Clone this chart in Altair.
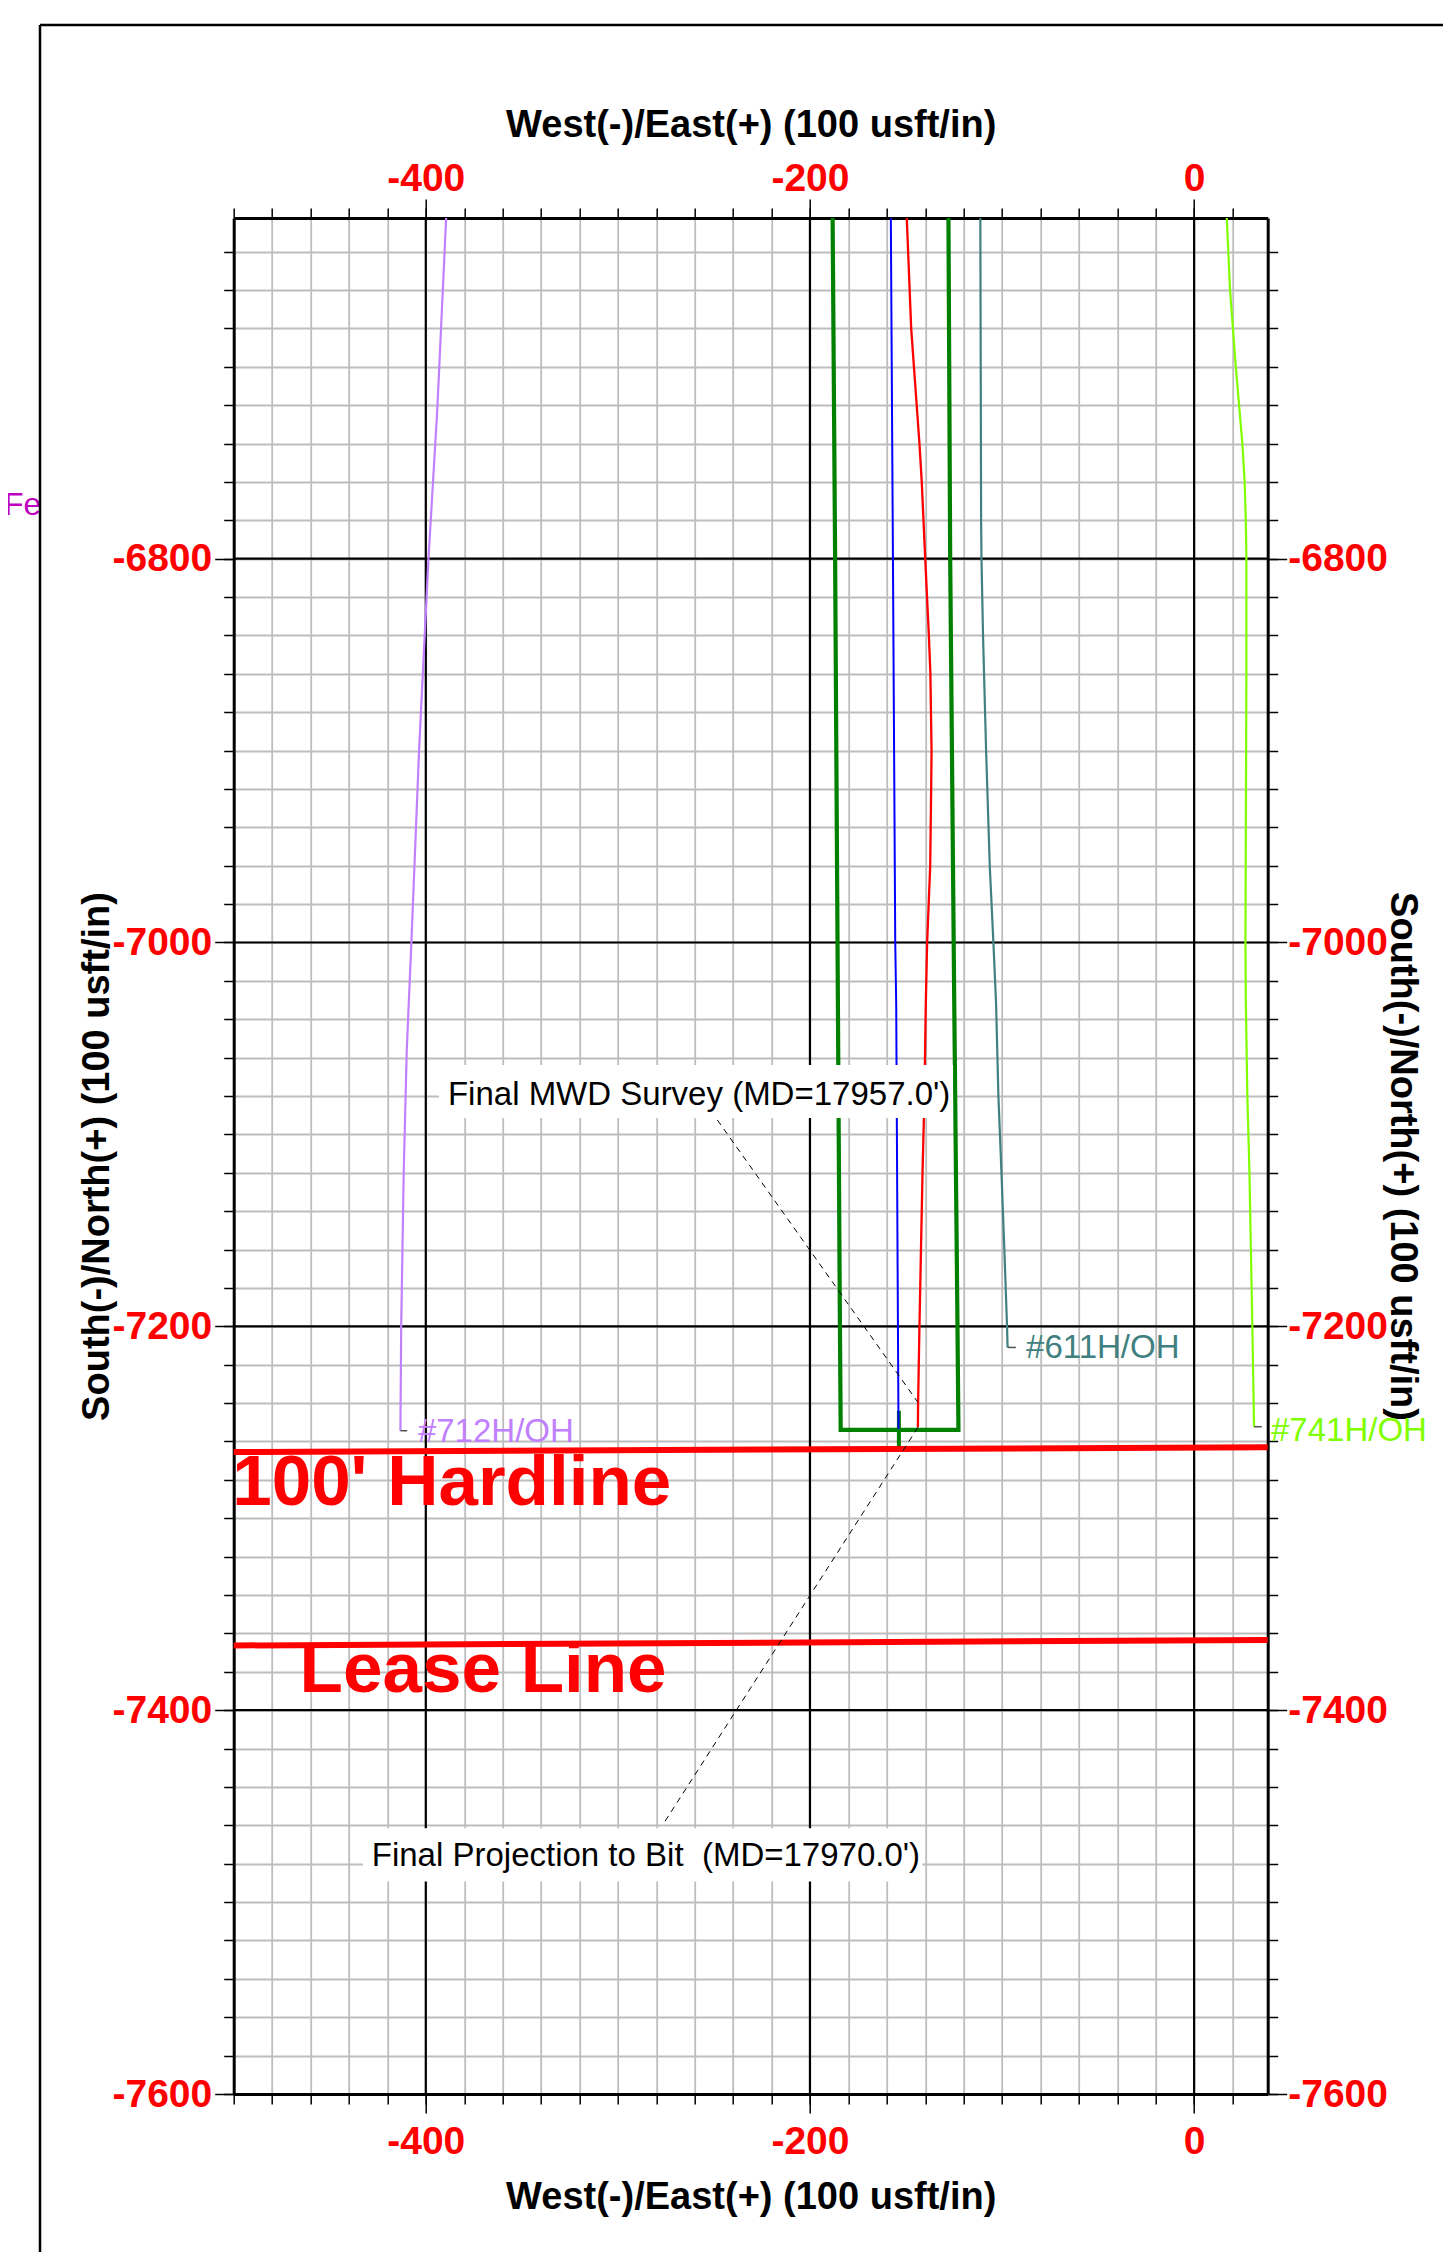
import altair as alt
import pandas as pd

FONT = "Liberation Sans"

# ---------------- scales / ticks ----------------
X_DOMAIN = [-500, 38.3]
Y_DOMAIN = [-7600, -6622.5]
X_MAJOR = [-400, -200, 0]
Y_MAJOR = [-7600, -7400, -7200, -7000, -6800]
X_MINOR = list(range(-500, 21, 20))
Y_MINOR = list(range(-7600, -6639, 20))
X_TITLE = "West(-)/East(+) (100 usft/in)"
Y_TITLE = "South(-)/North(+) (100 usft/in)"

# ---------------- well paths (E/W, N/S) ----------------
GREEN_E = [-188.2, -186.9, -185.3, -184.4, -184.0, -122.7, -123.2, -124.9, -127.0, -127.9]
GREEN_N = [-6622.5, -6800, -7056, -7200, -7254, -7254, -7200, -7030, -6800, -6622.5]
GREEN_SEG_E = [-153.7, -153.7]
GREEN_SEG_N = [-7244, -7264]

PLAN_E = [-157.9, -156.8, -155.6, -155.1, -154.2, -153.9]
PLAN_N = [-6622.5, -6800, -7000, -7032, -7200, -7253.5]

ACTUAL_E = [-149.6, -147.3, -143.0, -141.8, -140.0, -138.1, -137.3, -136.7, -136.9,
            -137.4, -139.0, -139.7, -140.4, -141.4, -143.0, -143.7, -143.8]
ACTUAL_N = [-6622.5, -6680, -6740, -6760, -6800, -6840, -6860, -6900, -6920,
            -6960, -7000, -7032, -7080, -7120, -7200, -7240, -7252.6]

W611_E = [-111.3, -111.1, -110.9, -110.7, -109.9, -108.3, -106.4, -104.5, -103.1,
          -101.9, -100.3, -98.8, -97.4, -97.1]
W611_N = [-6622.5, -6700, -6780, -6800, -6840, -6900, -6960, -7000, -7032,
          -7080, -7120, -7160, -7200, -7211]

W741_E = [17.0, 18.7, 21.7, 23.4, 25.1, 26.3, 26.9, 27.2, 27.2, 27.0, 26.7, 26.9,
          27.7, 28.8, 30.3, 31.2]
W741_N = [-6622.5, -6660, -6700, -6720, -6740, -6760, -6780, -6800, -6860, -6920,
          -7000, -7030, -7080, -7120, -7200, -7252.3]

W712_E = [-389.4, -394.0, -398.6, -403.5, -407.5, -409.9, -411.5, -412.8, -413.2]
W712_N = [-6622.5, -6722, -6800, -6900, -7000, -7056, -7120, -7200, -7254.4]

# well labels and their leaders
LABEL_TEXT = ["#712H/OH", "#611H/OH", "#741H/OH"]
LABEL_E = [-404.1, -87.5, 40.0]
LABEL_N = [-7255.3, -7211.5, -7254.6]
LABEL_COLOR = ["#C080FF", "#408080", "#80FF00"]
LEADER_E0 = [-413.2, -97.1, 31.2]
LEADER_E1 = [-409.7, -92.8, 35.2]
LEADER_N = [-7254.4, -7211.0, -7252.3]

# hard line / lease line
HARD_E = [-500, 38.3]
HARD_N = [-7265.5, -7263.0]
LEASE_E = [-500, 38.3]
LEASE_N = [-7366.3, -7363.4]
BIG_TEXT = ["100' Hardline", "Lease Line"]
BIG_E = [-500.8, -465.7]
BIG_N = [-7293.0, -7390.5]

# survey annotations
NOTE_TEXT = ["Final MWD Survey (MD=17957.0')", "Final Projection to Bit \u00a0(MD=17970.0')"]
NOTE_E = [-257.7, -285.4]
NOTE_N = [-7079.5, -7476.2]
NOTE_BOX_E0 = [-393.1, -432.7]
NOTE_BOX_E1 = [-125.5, -141.5]
NOTE_BOX_N0 = [-7063.8, -7461.5]
NOTE_BOX_N1 = [-7091.4, -7489.3]
DASH1_E = [-248.2, -143.8]
DASH1_N = [-7092.5, -7239.6]
DASH2_E = [-143.8, -275.7]
DASH2_N = [-7252.6, -7458.3]

# neighbouring panel text (clipped by the frame)
FED_TEXT = ["Fe"]
FED_E = [-619.6]
FED_N = [-6772.0]

# ---------------- helpers ----------------
XS = alt.Scale(domain=X_DOMAIN, nice=False, zero=False)
YS = alt.Scale(domain=Y_DOMAIN, nice=False, zero=False)


def X(field="e", axis=None):
    return alt.X(f"{field}:Q", scale=XS, axis=axis)


def Y(field="n", axis=None):
    return alt.Y(f"{field}:Q", scale=YS, axis=axis)


def path_df(es, ns):
    return pd.DataFrame({"e": es, "n": ns, "i": list(range(len(es)))})


LBL = "'' + datum.value"

ax_x_minor_bottom = alt.Axis(orient="bottom", values=X_MINOR, labels=False, ticks=True,
                             tickSize=10, tickWidth=1.5, tickColor="black", domain=False,
                             grid=True, gridColor="#BDBDBD", gridWidth=1.8, title=None)
ax_y_minor_left = alt.Axis(orient="left", values=Y_MINOR, labels=False, ticks=True,
                           tickSize=10, tickWidth=1.5, tickColor="black", domain=False,
                           grid=True, gridColor="#BDBDBD", gridWidth=1.8, title=None)
ax_x_minor_top = alt.Axis(orient="top", values=X_MINOR, labels=False, ticks=True,
                          tickSize=10, tickWidth=1.5, tickColor="black", domain=False,
                          grid=False, title=None)
ax_y_minor_right = alt.Axis(orient="right", values=Y_MINOR, labels=False, ticks=True,
                            tickSize=10, tickWidth=1.5, tickColor="black", domain=False,
                            grid=False, title=None)

major_common = dict(grid=False, domain=True, domainColor="black", domainWidth=3,
                    ticks=True, tickSize=19, tickWidth=1.5, tickColor="black",
                    labels=True, labelColor="#FF0000", labelFont=FONT, labelFontSize=39,
                    labelFontWeight="bold", labelExpr=LBL, labelOverlap=False,
                    labelFlush=False, titleFont=FONT, titleFontSize=38,
                    titleFontWeight="bold", titleColor="black")

ax_x_major_bottom = alt.Axis(orient="bottom", values=X_MAJOR, labelBaseline="alphabetic",
                             labelPadding=40, title=X_TITLE, titleX=517, titleY=114,
                             titleBaseline="alphabetic", titleAlign="center", **major_common)
ax_x_major_top = alt.Axis(orient="top", values=X_MAJOR, labelBaseline="alphabetic",
                          labelPadding=8.5, title=X_TITLE, titleX=517, titleY=-82,
                          titleBaseline="alphabetic", titleAlign="center", **major_common)
ax_y_major_left = alt.Axis(orient="left", values=Y_MAJOR, labelPadding=3,
                           labelAlign="right", labelBaseline="middle",
                           title=Y_TITLE, titleX=-136.5, titleY=938, titleAngle=270,
                           titleBaseline="middle", titleAlign="center", **major_common)
ax_y_major_right = alt.Axis(orient="right", values=Y_MAJOR, labelPadding=1,
                            labelAlign="left", labelBaseline="middle",
                            title=Y_TITLE, titleX=134, titleY=938, titleAngle=90,
                            titleBaseline="middle", titleAlign="center", **major_common)

layers = []

# major grid lines (drawn from the tick value lists)
layers.append(alt.Chart(pd.DataFrame({"e": X_MAJOR})).mark_rule(
    color="black", strokeWidth=2.2).encode(x=X()))
layers.append(alt.Chart(pd.DataFrame({"n": Y_MAJOR})).mark_rule(
    color="black", strokeWidth=2.2).encode(y=Y()))

# well paths (the first four also carry the axes)
layers.append(alt.Chart(path_df(GREEN_E, GREEN_N)).mark_line(
    color="#008000", strokeWidth=4.2).encode(
    x=X(axis=ax_x_minor_bottom), y=Y(axis=ax_y_minor_left), order="i:Q"))
layers.append(alt.Chart(path_df(GREEN_SEG_E, GREEN_SEG_N)).mark_line(
    color="#008000", strokeWidth=4).encode(
    x=X(axis=ax_x_minor_top), y=Y(axis=ax_y_minor_right), order="i:Q"))
layers.append(alt.Chart(path_df(PLAN_E, PLAN_N)).mark_line(
    color="#0000FF", strokeWidth=2).encode(
    x=X(axis=ax_x_major_bottom), y=Y(axis=ax_y_major_left), order="i:Q"))
layers.append(alt.Chart(path_df(ACTUAL_E, ACTUAL_N)).mark_line(
    color="#FF0000", strokeWidth=2.3).encode(
    x=X(axis=ax_x_major_top), y=Y(axis=ax_y_major_right), order="i:Q"))
for es, ns, col in [(W611_E, W611_N, "#408080"), (W741_E, W741_N, "#80FF00"),
                    (W712_E, W712_N, "#C080FF")]:
    layers.append(alt.Chart(path_df(es, ns)).mark_line(
        color=col, strokeWidth=2.2).encode(x=X(), y=Y(), order="i:Q"))

# label leaders
leaders = pd.DataFrame({"e": LEADER_E0, "e2": LEADER_E1, "n": LEADER_N})
layers.append(alt.Chart(leaders).mark_rule(color="#505050", strokeWidth=1.5).encode(
    x=X(), x2="e2:Q", y=Y()))

# hard line / lease line
for es, ns in [(HARD_E, HARD_N), (LEASE_E, LEASE_N)]:
    layers.append(alt.Chart(path_df(es, ns)).mark_line(
        color="#FF0000", strokeWidth=6).encode(x=X(), y=Y(), order="i:Q"))

# dashed leaders of survey notes
for es, ns in [(DASH1_E, DASH1_N), (DASH2_E, DASH2_N)]:
    layers.append(alt.Chart(path_df(es, ns)).mark_line(
        color="black", strokeWidth=1, strokeDash=[6, 5]).encode(x=X(), y=Y(), order="i:Q"))

# note boxes and texts
boxes = pd.DataFrame({"e": NOTE_BOX_E0, "e2": NOTE_BOX_E1, "n": NOTE_BOX_N0, "n2": NOTE_BOX_N1})
layers.append(alt.Chart(boxes).mark_rect(color="white").encode(
    x=X(), x2="e2:Q", y=Y(), y2="n2:Q"))
notes = pd.DataFrame({"e": NOTE_E, "n": NOTE_N, "t": NOTE_TEXT})
layers.append(alt.Chart(notes).mark_text(
    font=FONT, fontSize=33, color="black", align="center", baseline="middle").encode(
    x=X(), y=Y(), text="t:N"))

# well labels
wl = pd.DataFrame({"e": LABEL_E, "n": LABEL_N, "t": LABEL_TEXT, "c": LABEL_COLOR})
layers.append(alt.Chart(wl).mark_text(
    font=FONT, fontSize=33, align="left", baseline="middle").encode(
    x=X(), y=Y(), text="t:N", color=alt.Color("c:N", scale=None)))

# big red texts
big = pd.DataFrame({"e": BIG_E, "n": BIG_N, "t": BIG_TEXT})
layers.append(alt.Chart(big).mark_text(
    font=FONT, fontSize=71, fontWeight="bold", color="#FF0000", align="left",
    baseline="alphabetic").encode(x=X(), y=Y(), text="t:N"))

# clipped text of neighbouring panel
fed = pd.DataFrame({"e": FED_E, "n": FED_N, "t": FED_TEXT})
layers.append(alt.Chart(fed).mark_text(
    font=FONT, fontSize=32, color="#C000C0", align="left", baseline="middle").encode(
    x=X(), y=Y(), text="t:N"))

# outer frame
layers.append(alt.Chart(pd.DataFrame({"k": [0]})).mark_rule(
    color="black", strokeWidth=2.5).encode(
    x=alt.value(-193.7), x2=alt.value(1209.3), y=alt.value(-193)))
layers.append(alt.Chart(pd.DataFrame({"k": [0]})).mark_rule(
    color="black", strokeWidth=2.5).encode(
    x=alt.value(-193.7), y=alt.value(-193), y2=alt.value(2034)))

chart = (
    alt.layer(*layers)
    .resolve_axis(x="independent", y="independent")
    .properties(
        width=1034,
        height=1876,
        autosize=alt.AutoSizeParams(type="none"),
        padding={"left": 225.7, "top": 210, "right": 175.3, "bottom": 158},
        background="white",
    )
    .configure_view(stroke="transparent")
)

chart.save("out.html", embed_options={"renderer": "svg", "actions": False})
